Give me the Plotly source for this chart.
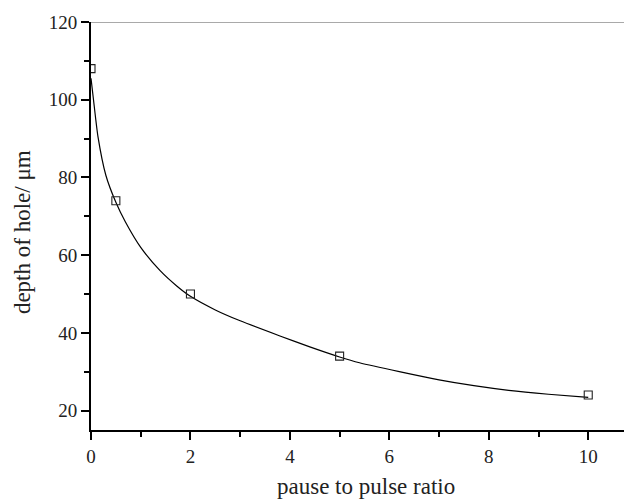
import plotly.graph_objects as go

# measured points
ratio = [0, 0.5, 2, 5, 10]
depth = [108, 74, 50, 34, 24]

# fitted curve
curve_x = [0, 0.05, 0.14, 0.3, 0.5, 0.69, 1.0, 1.39, 1.73, 2.0, 2.5, 3.0, 3.8, 4.4,
           5.0, 5.4, 6.2, 7.0, 7.7, 8.4, 9.2, 10.0]
curve_y = [105.5, 100, 90.5, 80.5, 73.6, 68.6, 62.0, 56.0, 52.0, 49.4, 45.9, 43.1, 39.2, 36.4,
           33.8, 32.3, 30.0, 27.9, 26.4, 25.2, 24.2, 23.4]

x_ticks = [0, 2, 4, 6, 8, 10]
y_ticks = [20, 40, 60, 80, 100, 120]

x_title = "pause to pulse ratio"
y_title = "depth of hole/ μm"

font_family = "Liberation Serif, Times New Roman, serif"

fig = go.Figure()
fig.add_trace(go.Scatter(x=curve_x, y=curve_y, mode="lines",
                         line=dict(color="black", width=1.2, shape="spline", smoothing=0.6),
                         showlegend=False, hoverinfo="skip"))
fig.add_trace(go.Scatter(x=ratio, y=depth, mode="markers",
                         marker=dict(symbol="square-open", size=8, color="#222",
                                     line=dict(width=1.1, color="#222")),
                         showlegend=False, cliponaxis=True))

axis_common = dict(showgrid=False, zeroline=False, showline=True, linecolor="black",
                   linewidth=2, ticks="outside", ticklen=8, tickwidth=2, tickcolor="black",
                   tickfont=dict(family=font_family, size=19, color="#222"))

fig.update_xaxes(range=[0, 10.88], tickvals=x_ticks, ticktext=[str(v) for v in x_ticks],
                 minor=dict(dtick=1, ticks="outside", ticklen=5, tickwidth=2,
                            tickcolor="black", showgrid=False),
                 **axis_common)
fig.update_yaxes(range=[15, 120], tickvals=y_ticks, ticktext=[str(v) for v in y_ticks],
                 minor=dict(tick0=10, dtick=10, ticks="outside", ticklen=5, tickwidth=2,
                            tickcolor="black", showgrid=False),
                 **axis_common)

fig.add_shape(type="line", xref="paper", yref="y", x0=0, x1=1, y0=120, y1=120,
              line=dict(color="#555", width=1.2))

fig.add_annotation(text=x_title, xref="paper", yref="paper", x=0.508, y=0,
                   xanchor="center", yanchor="middle", yshift=-56, showarrow=False,
                   font=dict(family=font_family, size=23, color="#222"))
fig.add_annotation(text=y_title, xref="paper", yref="paper", x=0, y=0.485,
                   xanchor="center", yanchor="middle", xshift=-69, textangle=-90,
                   showarrow=False, font=dict(family=font_family, size=23, color="#222"))

fig.update_layout(width=624, height=491, margin=dict(l=83, r=0, t=14, b=69),
                  plot_bgcolor="white", paper_bgcolor="white")

fig.write_html("out.html")
